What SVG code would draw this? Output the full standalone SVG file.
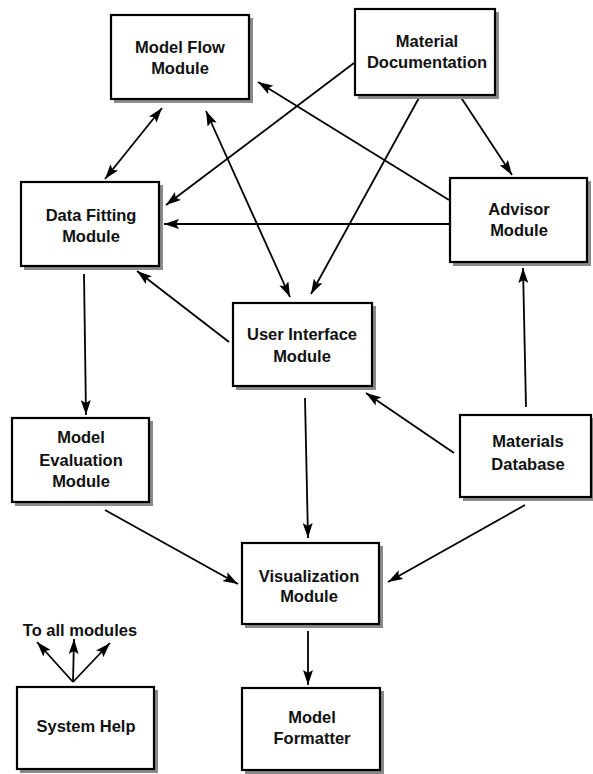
<svg xmlns="http://www.w3.org/2000/svg" width="593" height="774" viewBox="0 0 593 774">
<defs>
<marker id="ah" markerUnits="userSpaceOnUse" markerWidth="16" markerHeight="10" refX="15" refY="5" orient="auto-start-reverse">
<path d="M0,0 L15,5 L0,10 L3,5 Z" fill="#000"/>
</marker>
</defs>
<style>
.box{fill:#fff;stroke:#000;stroke-width:2.2}
.sh{fill:#8a8a8a}
.t{font-family:"Liberation Sans",Arial,sans-serif;font-weight:bold;font-size:16.5px;text-anchor:middle;fill:#111}
.c{stroke:#000;stroke-width:1.8;fill:none;marker-end:url(#ah)}
.d{marker-start:url(#ah)}
</style>
<rect width="593" height="774" fill="#fff"/>
<g id="connectors">
<line class="c d" x1="162" y1="108" x2="105" y2="179"/>
<line class="c d" x1="206" y1="111" x2="290" y2="297"/>
<line class="c" x1="354" y1="63" x2="166" y2="205"/>
<line class="c" x1="420" y1="96" x2="311" y2="294"/>
<line class="c" x1="460" y1="96" x2="512" y2="175"/>
<line class="c" x1="449" y1="200" x2="258" y2="82"/>
<line class="c" x1="449" y1="224" x2="164" y2="224"/>
<line class="c" x1="229" y1="342" x2="137" y2="271"/>
<line class="c" x1="84" y1="274" x2="86" y2="415"/>
<line class="c" x1="305" y1="398" x2="308" y2="538"/>
<line class="c" x1="454" y1="453" x2="366" y2="393"/>
<line class="c" x1="526" y1="407" x2="523" y2="268"/>
<line class="c" x1="105" y1="510" x2="238" y2="584"/>
<line class="c" x1="525" y1="505" x2="388" y2="582"/>
<line class="c" x1="308" y1="631" x2="308" y2="685"/>
<line class="c" x1="73" y1="682" x2="37" y2="642"/>
<line class="c" x1="73" y1="682" x2="74" y2="639"/>
<line class="c" x1="73" y1="682" x2="110" y2="643"/>
</g>
<g id="model-flow">
<rect class="sh" x="114" y="18" width="139" height="85"/>
<rect class="box" x="111" y="15" width="138" height="84"/>
<text class="t" x="180" y="53">Model Flow</text>
<text class="t" x="180" y="74">Module</text>
</g>
<g id="material-documentation">
<rect class="sh" x="358" y="12" width="141" height="87"/>
<rect class="box" x="355" y="9" width="140" height="86"/>
<text class="t" x="427" y="47">Material</text>
<text class="t" x="427" y="68">Documentation</text>
</g>
<g id="data-fitting">
<rect class="sh" x="24" y="185" width="139" height="85"/>
<rect class="box" x="21" y="182" width="138" height="84"/>
<text class="t" x="91" y="221">Data Fitting</text>
<text class="t" x="91" y="242">Module</text>
</g>
<g id="advisor">
<rect class="sh" x="453" y="181" width="138" height="85"/>
<rect class="box" x="450" y="178" width="137" height="84"/>
<text class="t" x="519" y="215">Advisor</text>
<text class="t" x="519" y="236">Module</text>
</g>
<g id="user-interface">
<rect class="sh" x="236" y="306" width="140" height="84"/>
<rect class="box" x="233" y="303" width="139" height="83"/>
<text class="t" x="302" y="340">User Interface</text>
<text class="t" x="302" y="362">Module</text>
</g>
<g id="model-evaluation">
<rect class="sh" x="15" y="421" width="138" height="85"/>
<rect class="box" x="12" y="418" width="137" height="84"/>
<text class="t" x="81" y="443">Model</text>
<text class="t" x="81" y="466">Evaluation</text>
<text class="t" x="81" y="487">Module</text>
</g>
<g id="materials-database">
<rect class="sh" x="463" y="418" width="131" height="83"/>
<rect class="box" x="460" y="415" width="131" height="82"/>
<text class="t" x="528" y="447">Materials</text>
<text class="t" x="528" y="470">Database</text>
</g>
<g id="visualization">
<rect class="sh" x="245" y="546" width="138" height="82"/>
<rect class="box" x="242" y="543" width="137" height="81"/>
<text class="t" x="309" y="582">Visualization</text>
<text class="t" x="309" y="602">Module</text>
</g>
<g id="system-help">
<text class="t" x="80" y="636">To all modules</text>
<rect class="sh" x="20" y="690" width="138" height="83"/>
<rect class="box" x="17" y="687" width="137" height="82"/>
<text class="t" x="86" y="732">System Help</text>
</g>
<g id="model-formatter">
<rect class="sh" x="245" y="691" width="139" height="83"/>
<rect class="box" x="242" y="688" width="138" height="82"/>
<text class="t" x="312" y="723">Model</text>
<text class="t" x="312" y="744">Formatter</text>
</g>
</svg>
